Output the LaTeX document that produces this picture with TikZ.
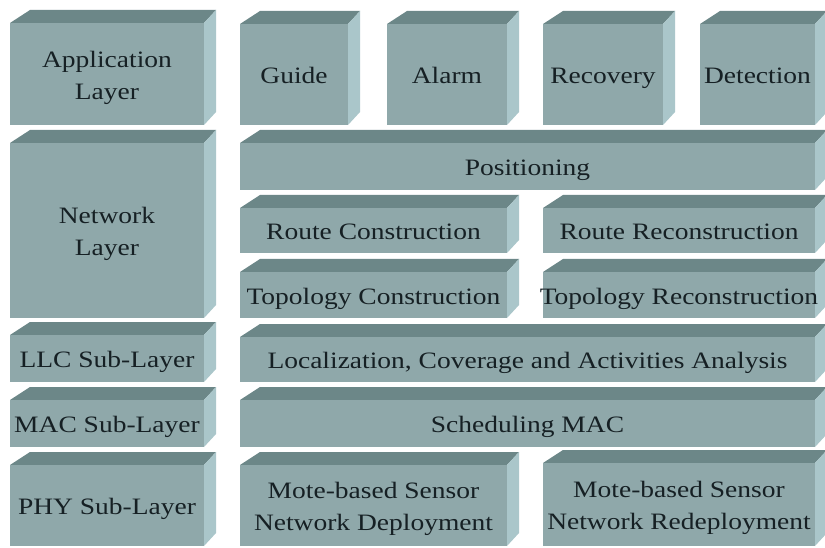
\documentclass[tikz,border=0pt]{standalone}
\usepackage{fontspec}
\setmainfont[FakeStretch=1.17]{Liberation Serif}

\definecolor{frontcol}{RGB}{143,168,170}
\definecolor{topcol}{RGB}{108,135,136}
\definecolor{sidecol}{RGB}{170,198,202}
\definecolor{inkcol}{RGB}{22,32,36}

% block with lid and right flank: name, x0, y0, x1, y1, text
\newcommand{\layerbox}[6]{%
\fill[topface] (#2,#3)--(#2+20,#3-13)--(#4+12,#3-13)--(#4,#3)--cycle;
\fill[sideface] (#4,#3)--(#4+12,#3-13)--(#4+12,#5-13)--(#4,#5)--cycle;
\fill[frontface] (#2,#3) rectangle (#4,#5);
\node[txt] (#1) at ({(#2+#4)/2},{(#3+#5)/2}) {\strut#6\strut};
}

\begin{document}
\begin{tikzpicture}[x=1pt, y=-1pt,
  frontface/.style={fill=frontcol},
  topface/.style={fill=topcol},
  sideface/.style={fill=sidecol},
  txt/.style={text=inkcol, align=center, inner sep=0pt, yshift=-3pt,
    font=\fontsize{23.5}{32}\selectfont}]
\useasboundingbox[fill=white] (0,0) rectangle (825,548);

% left column
\layerbox{app}{10}{23}{204}{125}{Application\\\strut Layer}
\layerbox{net}{10}{143}{204}{318}{Network\\\strut Layer}
\layerbox{llc}{10}{335}{204}{382}{LLC Sub-Layer}
\layerbox{mac}{10}{400}{204}{447}{MAC Sub-Layer}
\layerbox{phy}{10}{465}{204}{546}{PHY Sub-Layer}

% application services
\layerbox{guide}{240}{24}{348}{125}{Guide}
\layerbox{alarm}{387}{24}{507}{125}{Alarm}
\layerbox{recov}{543}{24}{663}{125}{Recovery}
\layerbox{detect}{700}{24}{815}{125}{Detection}

% network functions
\layerbox{posit}{240}{143}{815}{190}{Positioning}
\layerbox{routec}{240}{208}{507}{253}{Route Construction}
\layerbox{router}{543}{208}{815}{253}{Route Reconstruction}
\layerbox{topoc}{240}{272}{507}{318}{Topology Construction}
\layerbox{topor}{543}{272}{815}{318}{Topology Reconstruction}

% lower layers
\layerbox{local}{240}{337}{815}{382}{Localization, Coverage and Activities Analysis}
\layerbox{sched}{240}{400}{815}{447}{Scheduling MAC}
\layerbox{moted}{240}{465}{507}{546}{Mote-based Sensor\\\strut Network Deployment}
\layerbox{moter}{543}{463}{815}{546}{Mote-based Sensor\\\strut Network Redeployment}

\end{tikzpicture}
\end{document}
